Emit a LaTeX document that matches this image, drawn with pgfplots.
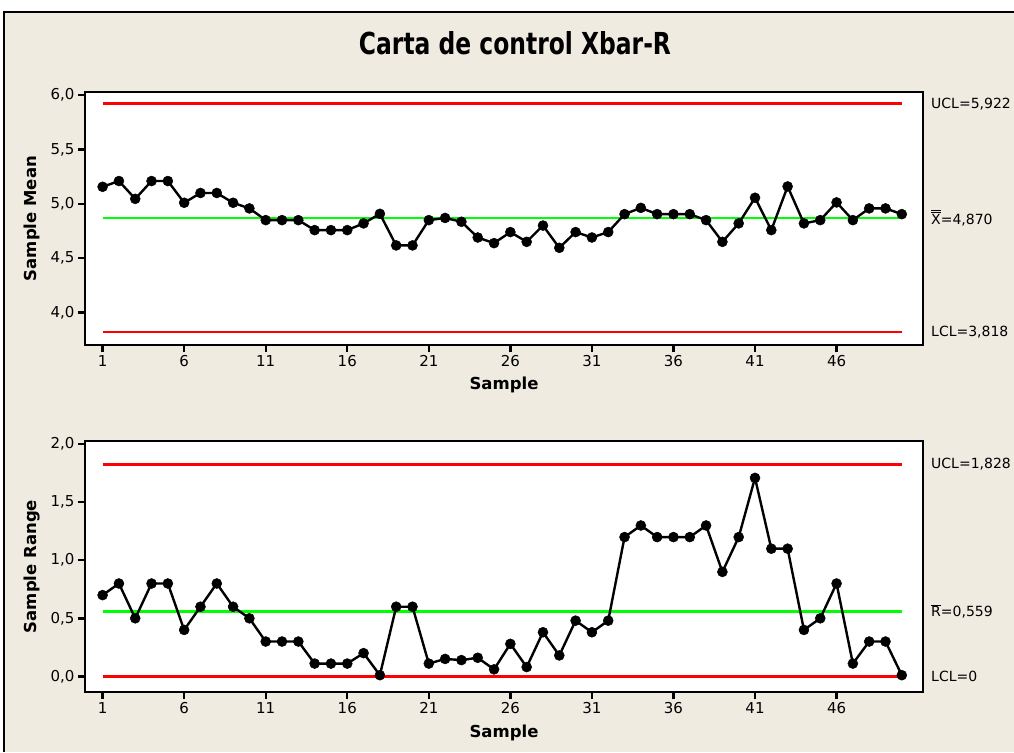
\documentclass[border=0pt]{standalone}
\usepackage{fontspec}
\setmainfont{DejaVu Sans}
\usepackage{graphicx}
\usepackage{pgfplots}
\pgfplotsset{compat=1.18}
\definecolor{bg}{RGB}{239,235,225}
\definecolor{uclc}{RGB}{255,0,0}
\definecolor{clc}{RGB}{0,255,0}

\pgfplotstableread{
s v
1 5.157
2 5.21
3 5.046
4 5.21
5 5.21
6 5.01
7 5.10
8 5.10
9 5.01
10 4.958
11 4.85
12 4.85
13 4.85
14 4.758
15 4.758
16 4.758
17 4.82
18 4.908
19 4.617
20 4.617
21 4.85
22 4.87
23 4.835
24 4.69
25 4.638
26 4.74
27 4.65
28 4.80
29 4.595
30 4.74
31 4.69
32 4.74
33 4.905
34 4.963
35 4.905
36 4.905
37 4.905
38 4.85
39 4.65
40 4.82
41 5.056
42 4.758
43 5.16
44 4.82
45 4.85
46 5.013
47 4.85
48 4.958
49 4.958
50 4.905
}\meantab

\pgfplotstableread{
s v
1 0.70
2 0.80
3 0.50
4 0.80
5 0.80
6 0.40
7 0.60
8 0.80
9 0.60
10 0.50
11 0.30
12 0.30
13 0.30
14 0.11
15 0.11
16 0.11
17 0.20
18 0.01
19 0.60
20 0.60
21 0.11
22 0.15
23 0.14
24 0.16
25 0.06
26 0.28
27 0.08
28 0.38
29 0.18
30 0.48
31 0.38
32 0.48
33 1.20
34 1.30
35 1.20
36 1.20
37 1.20
38 1.30
39 0.90
40 1.20
41 1.71
42 1.10
43 1.10
44 0.40
45 0.50
46 0.80
47 0.11
48 0.30
49 0.30
50 0.01
}\rangetab

\tikzset{
  limline/.style={line width=2.6pt, draw=#1},
  dataline/.style={draw=black, line width=2.4pt, mark=*, mark size=5pt, mark options={fill=black,draw=black,line width=0.5pt}},
  rlabel/.style={anchor=west, font=\fontsize{14}{16}\selectfont, xshift=7pt, inner sep=1pt},
}

\pgfplotsset{spcstyle/.style={
  scale only axis, width=838pt,
  xmin=-0.08, xmax=51.3,
  xtick={1,6,...,46},
  axis line style={line width=2.4pt},
  tick style={line width=2.4pt, black},
  major tick length=7pt,
  tick align=outside, tick pos=left,
  axis background/.style={fill=white},
  ticklabel style={font=\fontsize{15}{17}\selectfont},
  label style={font=\bfseries\fontsize{16.5}{18}\selectfont},
  /pgf/number format/assume math mode=true,
  yticklabel style={/pgf/number format/.cd, use comma, fixed, fixed zerofill, precision=1},
  clip=false,
  xlabel={Sample},
}}

\begin{document}
\begin{tikzpicture}
\useasboundingbox (0,0) rectangle (1014pt,-752pt);
\fill[white] (0,0) rectangle (1014pt,-752pt);
\fill[bg] (4pt,-12pt) rectangle (1014pt,-752pt);
\draw[line width=2.4pt] (4pt,-752pt) -- (4pt,-12pt) -- (1014pt,-12pt);
\node at (515pt,-43.5pt) {\resizebox{312pt}{23pt}{\bfseries Carta de control Xbar-R}};

\begin{axis}[spcstyle,
  at={(85pt,-92pt)}, anchor=north west, height=253pt,
  ymin=3.70, ymax=6.03,
  ytick={4.0,4.5,5.0,5.5,6.0},
  ylabel={Sample Mean},
  ylabel style={at={(axis description cs:-0.063,0.5)}, anchor=center},
  xlabel style={at={(axis description cs:0.5,-0.158)}, anchor=center},
]
\addplot[limline=uclc] coordinates {(1,5.922) (50,5.922)};
\addplot[limline=uclc] coordinates {(1,3.818) (50,3.818)};
\addplot[limline=clc] coordinates {(1,4.870) (50,4.870)};
\addplot[dataline] table[x=s,y=v] {\meantab};
\node[rlabel] at (axis cs:51.3,5.922) {UCL=5,922};
\node[rlabel] at (axis cs:51.3,4.870) {$\overline{\overline{\hbox{X}}}$=4,870};
\node[rlabel] at (axis cs:51.3,3.818) {LCL=3,818};
\end{axis}

\begin{axis}[spcstyle,
  at={(85pt,-441pt)}, anchor=north west, height=251pt,
  ymin=-0.135, ymax=2.028,
  ytick={0,0.5,1.0,1.5,2.0},
  ylabel={Sample Range},
  ylabel style={at={(axis description cs:-0.063,0.5)}, anchor=center},
  xlabel style={at={(axis description cs:0.5,-0.163)}, anchor=center},
]
\addplot[limline=uclc] coordinates {(1,1.828) (50,1.828)};
\addplot[limline=uclc] coordinates {(1,0) (50,0)};
\addplot[limline=clc] coordinates {(1,0.559) (50,0.559)};
\addplot[dataline] table[x=s,y=v] {\rangetab};
\node[rlabel] at (axis cs:51.3,1.828) {UCL=1,828};
\node[rlabel] at (axis cs:51.3,0.559) {$\overline{\hbox{R}}$=0,559};
\node[rlabel] at (axis cs:51.3,0) {LCL=0};
\end{axis}
\end{tikzpicture}
\end{document}
